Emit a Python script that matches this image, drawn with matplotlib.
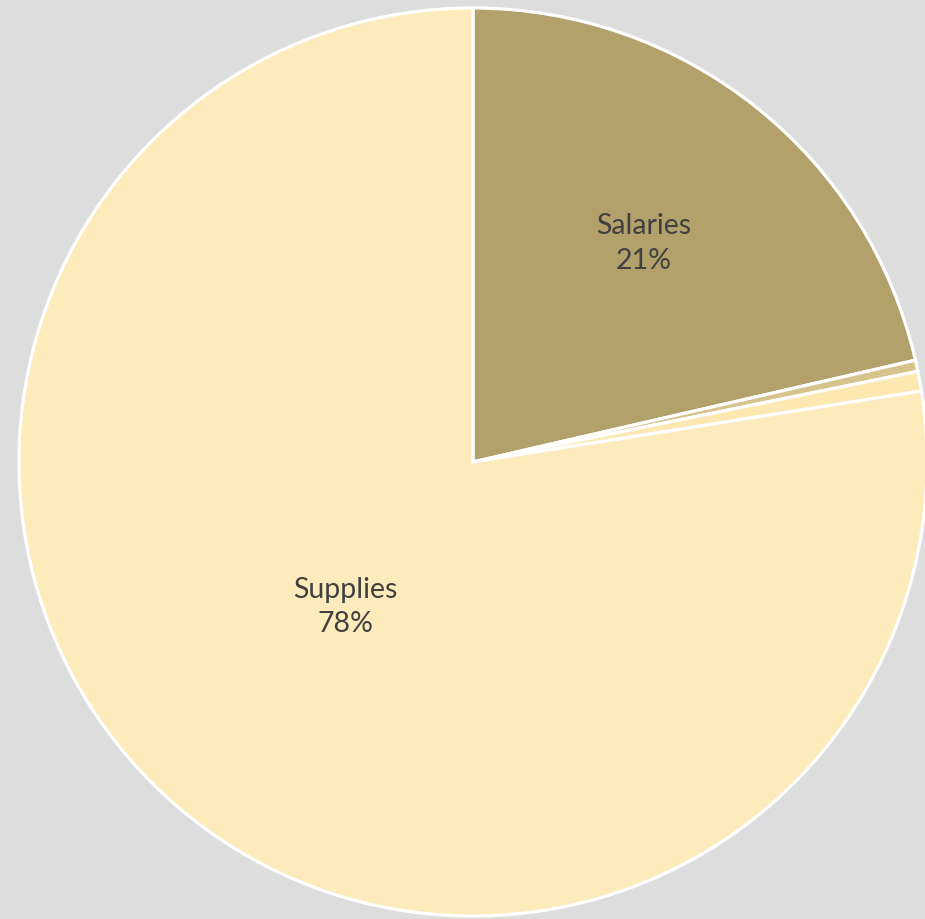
import numpy as np
import matplotlib
matplotlib.use("Agg")
import matplotlib.pyplot as plt

# Budget breakdown
categories = ["Salaries", "Equipment", "Travel", "Supplies"]
values = [21.4, 0.4, 0.7, 77.5]
colors = ["#B3A16B", "#D6C48C", "#FDE8B2", "#FEEBBB"]
show_label = [True, False, False, True]
label_radius = [0.615, 0.0, 0.0, 0.42]

W, H, DPI = 925, 919, 100
cx, cy, R = 473, 462, 454  # pie centre and radius in pixels

fig = plt.figure(figsize=(W / DPI, H / DPI), dpi=DPI, facecolor="#DDDDDD")
ax = fig.add_axes([0, 0, 1, 1])
ax.set_facecolor("#DDDDDD")

wedges, _ = ax.pie(values, colors=colors, startangle=90, counterclock=False,
                   radius=1.0, wedgeprops=dict(edgecolor="white", linewidth=2.3))

ax.set_xlim(-cx / R, (W - cx) / R)
ax.set_ylim(-(H - cy) / R, cy / R)
ax.set_aspect("equal")
ax.axis("off")

total = sum(values)
for w, name, v, show, r in zip(wedges, categories, values, show_label, label_radius):
    if not show:
        continue
    mid = np.deg2rad((w.theta1 + w.theta2) / 2)
    ax.text(r * np.cos(mid) - 0.008, r * np.sin(mid),
            f"{name}\n{round(v / total * 100):.0f}%",
            ha="center", va="center", fontsize=20.5, color="#404040",
            family="Lato", linespacing=1.4)

fig.savefig("out.png", dpi=DPI, facecolor=fig.get_facecolor())
